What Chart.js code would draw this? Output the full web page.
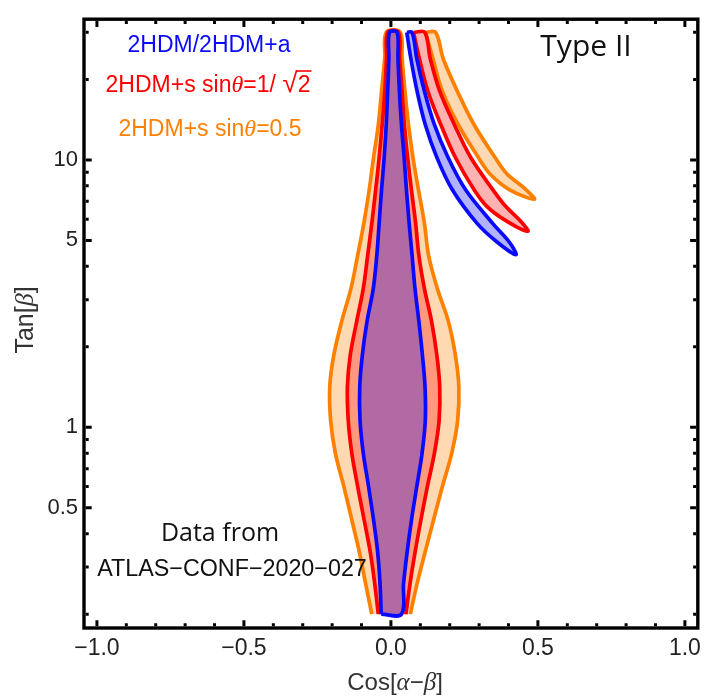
<!DOCTYPE html>
<html>
<head>
<meta charset="utf-8">
<script src="https://cdn.jsdelivr.net/npm/chart.js@4.4.1/dist/chart.umd.min.js"></script>
<style>
html,body{margin:0;padding:0;background:#fff;}
#wrap{width:708px;height:696px;}
</style>
</head>
<body>
<div id="wrap"><canvas id="chart" width="708" height="696"></canvas></div>
<script>
// axis ranges (cos(a-b) linear, tan(b) log)
const xMin = -1.044, xMax = 1.044;
const yMin = 0.1775, yMax = 33.6;

const xMajor = [-1, -0.5, 0, 0.5, 1];
const xMinor = [-0.9, -0.8, -0.7, -0.6, -0.4, -0.3, -0.2, -0.1, 0.1, 0.2, 0.3, 0.4, 0.6, 0.7, 0.8, 0.9];
const yMajor = [0.5, 1, 5, 10];
const yMinor = [0.2, 0.3, 0.4, 0.6, 0.7, 0.8, 0.9, 2, 3, 4, 6, 7, 8, 9, 20, 30];
const xLabels = ["\u22121.0", "\u22120.5", "0.0", "0.5", "1.0"];
const yLabels = ["0.5", "1", "5", "10"];

// central allowed band, edges read at these tan(b) values
const centerTan   = [30, 24, 18, 13.5, 10.2, 7.7, 5.8, 4.4, 3.3, 2.5, 1.87, 1.42, 1.06, 0.8, 0.6, 0.45, 0.34, 0.26, 0.2];
const orangeLeft  = [-0.016, -0.021, -0.032, -0.043, -0.059, -0.074, -0.092, -0.113, -0.136, -0.167, -0.194, -0.208, -0.205, -0.189, -0.160, -0.133, -0.107, -0.086, -0.065];
const orangeRight = [0.032, 0.038, 0.048, 0.060, 0.075, 0.094, 0.114, 0.128, 0.158, 0.195, 0.219, 0.231, 0.227, 0.207, 0.175, 0.145, 0.116, 0.089, 0.066];
const redLeft     = [-0.011, -0.015, -0.021, -0.030, -0.040, -0.052, -0.065, -0.079, -0.094, -0.116, -0.138, -0.148, -0.145, -0.133, -0.113, -0.091, -0.070, -0.055, -0.043];
const redRight    = [0.026, 0.030, 0.038, 0.046, 0.057, 0.070, 0.084, 0.095, 0.114, 0.138, 0.156, 0.166, 0.164, 0.148, 0.124, 0.102, 0.082, 0.065, 0.051];
const blueLeft    = [-0.005, -0.007, -0.011, -0.016, -0.023, -0.032, -0.040, -0.048, -0.060, -0.081, -0.097, -0.106, -0.105, -0.094, -0.076, -0.059, -0.045, -0.037, -0.033];
const blueRight   = [0.021, 0.024, 0.029, 0.036, 0.045, 0.053, 0.062, 0.072, 0.082, 0.095, 0.107, 0.116, 0.117, 0.106, 0.088, 0.070, 0.055, 0.043, 0.036];

// wrong-sign wings: lower edge from the top down to the tip, then upper edge back up
const blueWingLowX    = [0.054, 0.068, 0.089, 0.117, 0.156, 0.209, 0.293, 0.361, 0.425];
const blueWingLowTan  = [30, 23.9, 18.07, 13.54, 10.23, 7.73, 5.79, 4.93, 4.42];
const blueWingHighX   = [0.405, 0.346, 0.254, 0.194, 0.148, 0.114, 0.088, 0.072];
const blueWingHighTan = [4.89, 5.79, 7.73, 10.23, 13.54, 18.07, 23.9, 30];

const redWingLowX    = [0.077, 0.097, 0.126, 0.170, 0.219, 0.283, 0.327, 0.395, 0.466];
const redWingLowTan  = [30, 23.9, 18.07, 13.54, 10.23, 7.73, 6.69, 5.89, 5.41];
const redWingHighX   = [0.435, 0.391, 0.347, 0.271, 0.216, 0.166, 0.134, 0.115];
const redWingHighTan = [6.0, 6.69, 7.73, 10.23, 13.54, 18.07, 23.9, 30];

const orangeWingLowX    = [0.118, 0.143, 0.175, 0.229, 0.297, 0.337, 0.404, 0.488];
const orangeWingLowTan  = [30, 23.9, 18.07, 13.54, 10.23, 8.86, 7.73, 7.13];
const orangeWingHighX   = [0.452, 0.395, 0.354, 0.283, 0.226, 0.178, 0.152];
const orangeWingHighTan = [7.87, 8.86, 10.23, 13.54, 18.07, 23.9, 30];

const blue = "#0a0aff", red = "#ff0000", orange = "#ff8000";
const blueFill = "rgba(0,0,255,0.3)", redFill = "rgba(255,0,0,0.3)", orangeFill = "rgba(255,128,0,0.3)";

function band(left, right, closeBottom){
  const pts = [];
  for(let i = centerTan.length - 1; i >= 0; i--) pts.push({x:left[i], y:centerTan[i]});
  for(let i = 0; i < centerTan.length; i++) pts.push({x:right[i], y:centerTan[i]});
  if(closeBottom) pts.push(pts[0]);
  return pts;
}

function wing(lowX, lowTan, highX, highTan){
  const pts = lowX.map((v,i)=>({x:v, y:lowTan[i]}));
  highX.forEach((v,i)=>pts.push({x:v, y:highTan[i]}));
  pts.push(pts[0]);
  return pts;
}

function region(pts, line, fill){
  return {
    data: pts,
    showLine: true,
    borderColor: line,
    backgroundColor: fill,
    borderWidth: 3.7,
    pointRadius: 0,
    tension: 0.35,
    fill: "shape"
  };
}

// index 0 ends up on top
const datasets = [
  region(band(blueLeft, blueRight, true), blue, blueFill),
  region(wing(blueWingLowX, blueWingLowTan, blueWingHighX, blueWingHighTan), blue, blueFill),
  region(band(redLeft, redRight, false), red, redFill),
  region(wing(redWingLowX, redWingLowTan, redWingHighX, redWingHighTan), red, redFill),
  region(band(orangeLeft, orangeRight, false), orange, orangeFill),
  region(wing(orangeWingLowX, orangeWingLowTan, orangeWingHighX, orangeWingHighTan), orange, orangeFill)
];

const arial = '"Liberation Sans", Arial, sans-serif';
const serif = '"Liberation Serif", serif';

function drawRuns(ctx, runs, cx, base, color){
  let total = 0;
  runs.forEach(r=>{ ctx.font = r.f; r.w = ctx.measureText(r.t).width; total += r.w; });
  let xx = cx - total/2;
  ctx.fillStyle = color;
  ctx.textAlign = "left";
  ctx.textBaseline = "alphabetic";
  runs.forEach(r=>{ ctx.font = r.f; ctx.fillText(r.t, xx, base); r.x = xx; xx += r.w; });
  return runs;
}

const framePlugin = {
  id: "frame",
  afterDraw(chart){
    const {ctx, chartArea:a} = chart;
    const xs = chart.scales.x, ys = chart.scales.y;
    ctx.save();
    ctx.strokeStyle = "#000";
    ctx.lineWidth = 3.4;
    ctx.strokeRect(a.left, a.top, a.right - a.left, a.bottom - a.top);

    const e = 1.7;
    ctx.lineWidth = 3;
    ctx.beginPath();
    const xt = (v, len)=>{
      const p = xs.getPixelForValue(v);
      ctx.moveTo(p, a.bottom - e); ctx.lineTo(p, a.bottom - e - len);
      ctx.moveTo(p, a.top + e); ctx.lineTo(p, a.top + e + len);
    };
    const yt = (v, len)=>{
      const p = ys.getPixelForValue(v);
      ctx.moveTo(a.left + e, p); ctx.lineTo(a.left + e + len, p);
      ctx.moveTo(a.right - e, p); ctx.lineTo(a.right - e - len, p);
    };
    xMajor.forEach(v=>xt(v, 6));
    xMinor.forEach(v=>xt(v, 3));
    yMajor.forEach(v=>yt(v, 6));
    yMinor.forEach(v=>yt(v, 3));
    ctx.stroke();

    // model labels
    const f23 = "23px " + arial;
    const i24 = "italic 24px " + serif;
    drawRuns(ctx, [{t:"2HDM/2HDM+a", f:f23}], 209, 52, blue);
    const r = drawRuns(ctx, [
      {t:"2HDM+s sin", f:f23}, {t:"\u03b8", f:i24}, {t:"=1/ ", f:f23},
      {t:"\u221a", f:"28px " + arial}, {t:"2", f:f23}
    ], 208, 92, red);
    ctx.strokeStyle = red;
    ctx.lineWidth = 1.6;
    ctx.beginPath();
    ctx.moveTo(r[4].x - 1, 92 - 21);
    ctx.lineTo(r[4].x + r[4].w + 1, 92 - 21);
    ctx.stroke();
    drawRuns(ctx, [{t:"2HDM+s sin", f:f23}, {t:"\u03b8", f:i24}, {t:"=0.5", f:f23}], 210, 136, orange);

    drawRuns(ctx, [{t:"Type II", f:'30px "Open Sans", sans-serif'}], 586, 56, "#111");
    drawRuns(ctx, [{t:"Data from", f:'25px "Open Sans", sans-serif'}], 220, 541, "#111");
    drawRuns(ctx, [{t:"ATLAS\u2212CONF\u22122020\u2212027", f:"23.3px " + arial}], 232, 576, "#111");

    // axis titles
    const f24 = "24px " + arial;
    const i25 = "italic 25px " + serif;
    drawRuns(ctx, [{t:"Cos[", f:f24}, {t:"\u03b1", f:i25}, {t:"\u2212", f:f24}, {t:"\u03b2", f:i25}, {t:"]", f:f24}], 395, 690, "#333");
    ctx.translate(33, 320);
    ctx.rotate(-Math.PI/2);
    drawRuns(ctx, [{t:"Tan[", f:"25px " + arial}, {t:"\u03b2", f:"italic 26px " + serif}, {t:"]", f:"25px " + arial}], 0, 0, "#333");
    ctx.restore();
  }
};

new Chart(document.getElementById("chart"), {
  type: "scatter",
  data: { datasets: datasets },
  options: {
    responsive: false,
    animation: false,
    layout: { padding: { top: 10, right: 6, left: 0, bottom: 0 } },
    plugins: { legend: { display: false }, tooltip: { enabled: false } },
    scales: {
      x: {
        type: "linear", min: xMin, max: xMax,
        grid: { display: false, drawTicks: false },
        border: { display: false },
        afterBuildTicks: s => { s.ticks = xMajor.map(v=>({value:v})); },
        afterFit: s => { s.height = 68; },
        ticks: {
          autoSkip: false, maxRotation: 0, padding: 7, color: "#222",
          font: { family: "Liberation Sans", size: 23 },
          callback: (v, i) => xLabels[i]
        }
      },
      y: {
        type: "logarithmic", min: yMin, max: yMax,
        grid: { display: false, drawTicks: false },
        border: { display: false },
        afterBuildTicks: s => { s.ticks = yMajor.map(v=>({value:v})); },
        afterFit: s => { s.width = 84; },
        ticks: {
          autoSkip: false, padding: 6, color: "#222",
          font: { family: "Liberation Sans", size: 22 },
          callback: (v, i) => yLabels[i]
        }
      }
    }
  },
  plugins: [framePlugin]
});
</script>
</body>
</html>
